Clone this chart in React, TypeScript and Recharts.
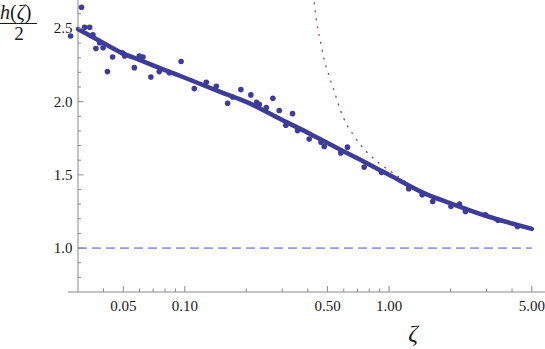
import React from "react";
import { ComposedChart, Line, Scatter, XAxis, YAxis, ReferenceLine } from "recharts";

// sampled points (zeta, h/2)
const SAMPLE_ZETA = [
  0.0276, 0.0312, 0.0323, 0.0342, 0.0355, 0.0367, 0.0383, 0.0398, 0.0418, 0.0443,
  0.0494, 0.0508, 0.0566, 0.0599, 0.0624, 0.0682, 0.075, 0.084, 0.0959, 0.1113,
  0.1274, 0.1426, 0.162, 0.1714, 0.1881, 0.2106, 0.2246, 0.2315, 0.2505, 0.2698,
  0.29, 0.3124, 0.3368, 0.3563, 0.4064, 0.4643, 0.4814, 0.5802, 0.6256, 0.7552,
  0.918, 1.248, 1.452, 1.636, 2.009, 2.211, 2.365, 2.962, 3.411, 4.249,
];
const SAMPLE_H = [
  2.448, 2.644, 2.508, 2.508, 2.457, 2.362, 2.402, 2.368, 2.205, 2.305,
  2.334, 2.312, 2.232, 2.312, 2.305, 2.168, 2.205, 2.198, 2.274, 2.089,
  2.132, 2.105, 1.989, 2.032, 2.082, 2.046, 1.996, 1.982, 1.959, 2.023,
  1.939, 1.839, 1.918, 1.802, 1.744, 1.723, 1.694, 1.65, 1.689, 1.553,
  1.517, 1.405, 1.364, 1.318, 1.285, 1.3, 1.25, 1.227, 1.19, 1.147,
];

// fitted curve
const FIT_ZETA = [0.03, 0.04, 0.05, 0.06, 0.08, 0.1, 0.15, 0.2, 0.3, 0.4, 0.5, 0.7, 1.0, 1.5, 2.0, 3.0, 4.0, 5.0];
const FIT_H = [2.495, 2.4, 2.328, 2.285, 2.215, 2.163, 2.065, 1.998, 1.874, 1.788, 1.717, 1.613, 1.5, 1.372, 1.306, 1.219, 1.168, 1.131];

// large-zeta asymptote (dotted)
const ASYM_ZETA = [0.415, 0.4282, 0.4447, 0.4618, 0.4792, 0.5069, 0.5363, 0.5784, 0.6237, 0.66, 0.7303, 0.8294, 0.9603, 1.1155, 1.272, 1.5];
const ASYM_H = [2.84, 2.694, 2.523, 2.409, 2.296, 2.182, 2.08, 1.94, 1.838, 1.784, 1.7, 1.618, 1.548, 1.486, 1.425, 1.372];

// h/2 = 1 reference
const BASE_ZETA = [0.03, 5.0];
const BASE_H = [1, 1];

const X_MAJOR = [0.05, 0.1, 0.5, 1, 5];
const X_MAJOR_LABELS = ["0.05", "0.10", "0.50", "1.00", "5.00"];
const X_MINOR = [0.04, 0.06, 0.07, 0.08, 0.09, 0.2, 0.3, 0.4, 0.6, 0.7, 0.8, 0.9, 2, 3, 4];
const Y_MAJOR = [1.0, 1.5, 2.0, 2.5];
const Y_MAJOR_LABELS = ["1.0", "1.5", "2.0", "2.5"];
const Y_MINOR = [0.8, 0.9, 1.1, 1.2, 1.3, 1.4, 1.6, 1.7, 1.8, 1.9, 2.1, 2.2, 2.3, 2.4, 2.6];

const W = 545;
const H = 349;
const LEFT = 68;
const Y_W = 10;
const X_MIN = 0.0268;
const X_MAX = 5.8;
const Y_AXIS_AT = 0.03;
const AXIS_OFF = (Math.log10(Y_AXIS_AT / X_MIN) / Math.log10(X_MAX / X_MIN)) * (W - LEFT);

const BLUE = "#3d3d99";
const AXIS = "#8a8a8a";
const TXT = "#1a1a1a";
const FONT = "'Liberation Serif', 'Times New Roman', 'DejaVu Serif', serif";

const zip = (xs: number[], ys: number[]) => xs.map((x, i) => ({ x, y: ys[i] }));
const samples = zip(SAMPLE_ZETA, SAMPLE_H);
const fit = zip(FIT_ZETA, FIT_H);
const asym = zip(ASYM_ZETA, ASYM_H);
const base = zip(BASE_ZETA, BASE_H);

const xTicks = [...X_MAJOR, ...X_MINOR].sort((a, b) => a - b);
const yTicks = [...Y_MAJOR, ...Y_MINOR].sort((a, b) => a - b);

const txtStyle = { fontFamily: FONT };

function XTick(props: any) {
  const { x, y, payload } = props;
  const i = X_MAJOR.indexOf(payload.value);
  const len = i >= 0 ? 6 : 3.5;
  return (
    <g>
      <line x1={x} x2={x} y1={y} y2={y - len} stroke={AXIS} strokeWidth={1} />
      {i >= 0 && (
        <text x={x} y={y + 19} textAnchor="middle" fontSize={15} style={txtStyle} fill={TXT}>
          {X_MAJOR_LABELS[i]}
        </text>
      )}
    </g>
  );
}

function YTick(props: any) {
  const { x, y, payload } = props;
  const i = Y_MAJOR.indexOf(payload.value);
  const len = i >= 0 ? 5.5 : 3;
  const ax = x + AXIS_OFF;
  return (
    <g>
      <line x1={ax} x2={ax + len} y1={y} y2={y} stroke={AXIS} strokeWidth={1} />
      {i >= 0 && (
        <text x={ax - 5.5} y={y + 5} textAnchor="end" fontSize={15} style={txtStyle} fill={TXT}>
          {Y_MAJOR_LABELS[i]}
        </text>
      )}
    </g>
  );
}

export default function App() {
  return (
    <div style={{ position: "absolute", left: 0, top: 0, width: W, height: H, background: "#fff" }}>
      <ComposedChart width={W} height={H} margin={{ top: 0, right: 0, bottom: 0, left: LEFT - Y_W }}>
        <XAxis
          type="number"
          dataKey="x"
          scale="log"
          domain={[X_MIN, X_MAX]}
          allowDataOverflow
          ticks={xTicks}
          interval={0}
          height={57}
          tickSize={0}
          tickMargin={0}
          tickLine={false}
          axisLine={{ stroke: AXIS }}
          tick={(p: any) => <XTick {...p} />}
        />
        <YAxis
          type="number"
          dataKey="y"
          domain={[0.7, 2.694]}
          allowDataOverflow
          ticks={yTicks}
          interval={0}
          width={Y_W}
          tickSize={0}
          tickMargin={0}
          tickLine={false}
          axisLine={false}
          tick={(p: any) => <YTick {...p} />}
        />
        <ReferenceLine x={Y_AXIS_AT} stroke={AXIS} strokeWidth={1} />
        <Line
          data={base}
          dataKey="y"
          type="linear"
          stroke="#4d4dcc"
          strokeWidth={1}
          strokeDasharray="9 5"
          dot={false}
          activeDot={false}
          isAnimationActive={false}
        />
        <Line
          data={asym}
          dataKey="y"
          type="monotone"
          stroke="#993d66"
          strokeWidth={1.3}
          strokeDasharray="2 6"
          dot={false}
          activeDot={false}
          isAnimationActive={false}
        />
        <Scatter
          data={samples}
          dataKey="y"
          fill={BLUE}
          isAnimationActive={false}
          shape={(p: any) => <circle cx={p.cx} cy={p.cy} r={2.8} fill={BLUE} />}
        />
        <Line
          data={fit}
          dataKey="y"
          type="monotone"
          stroke={BLUE}
          strokeWidth={4.5}
          strokeLinecap="round"
          dot={false}
          activeDot={false}
          isAnimationActive={false}
        />
      </ComposedChart>
      <svg width={W} height={H} style={{ position: "absolute", left: 0, top: 0, pointerEvents: "none" }}>
        <text x={0} y={19} fontSize={20} style={txtStyle} fill={TXT}>
          <tspan fontStyle="italic">h</tspan>(<tspan fontStyle="italic">ζ</tspan>)
        </text>
        <line x1={0} x2={37} y1={23.5} y2={23.5} stroke={TXT} strokeWidth={1} />
        <text x={19} y={40} textAnchor="middle" fontSize={19} style={txtStyle} fill={TXT}>
          2
        </text>
        <text x={413} y={341} textAnchor="middle" fontSize={24} fontStyle="italic" style={txtStyle} fill={TXT}>
          ζ
        </text>
      </svg>
    </div>
  );
}
